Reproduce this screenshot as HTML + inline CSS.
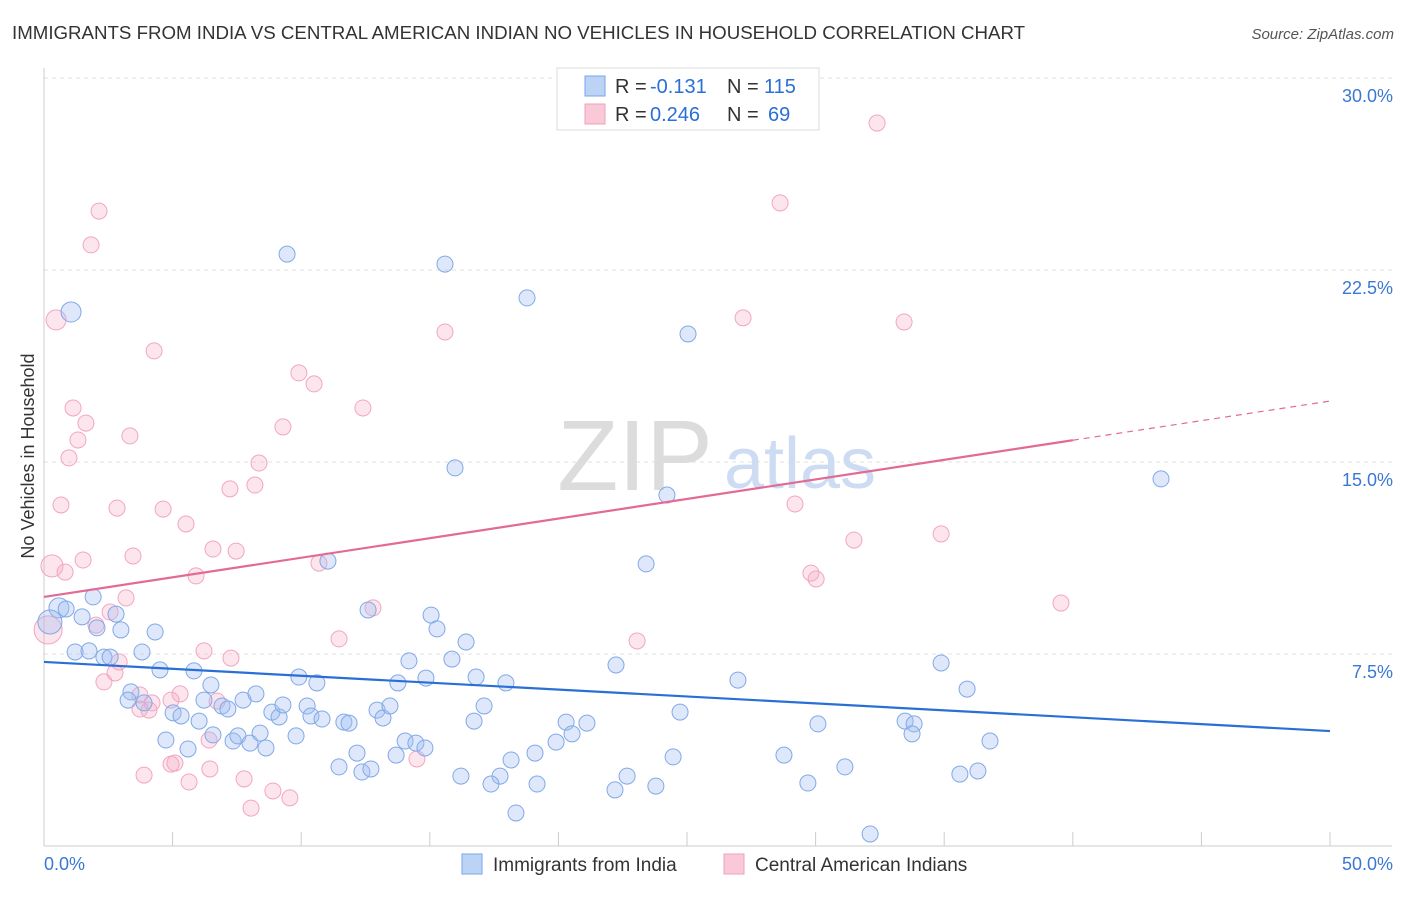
<!DOCTYPE html>
<html><head><meta charset="utf-8"><style>
body{margin:0;background:#fff;font-family:"Liberation Sans",sans-serif;}
svg text{font-family:"Liberation Sans",sans-serif;}
</style></head><body>
<svg id="chart" width="1406" height="892" viewBox="0 0 1406 892" xmlns="http://www.w3.org/2000/svg">
<text x="12" y="39" font-size="18.7" fill="#333">IMMIGRANTS FROM INDIA VS CENTRAL AMERICAN INDIAN NO VEHICLES IN HOUSEHOLD CORRELATION CHART</text>
<text x="1394" y="39" font-size="15" fill="#555" font-style="italic" text-anchor="end">Source: ZipAtlas.com</text>
<g id="grid"></g>
<g id="axes"></g>
<g>
<text x="635" y="490" font-size="100" font-family="Liberation Serif,serif" fill="#dcdcdc" text-anchor="middle">ZIP</text>
<text x="800" y="488" font-size="72" fill="#cddcf2" text-anchor="middle">atlas</text>
</g>
<g id="pts-pink"></g>
<g id="pts-blue"></g>
<g id="trends"></g>
<text x="34" y="456" font-size="18" fill="#333" text-anchor="middle" transform="rotate(-90 34 456)">No Vehicles in Household</text>
<g>
<rect x="557" y="68" width="262" height="62" fill="#fff" stroke="#ddd"/>
<rect x="585" y="76" width="20" height="20" fill="#bcd3f5" stroke="#7aa6e8"/>
<rect x="585" y="104" width="20" height="20" fill="#f9c9d8" stroke="#f0a0bb"/>
<text x="615" y="93" font-size="20" fill="#333">R = </text>
<text x="650" y="93" font-size="20" fill="#2a6fd6">-0.131</text>
<text x="727" y="93" font-size="20" fill="#333">N = </text>
<text x="764" y="93" font-size="20" fill="#2a6fd6">115</text>
<text x="615" y="121" font-size="20" fill="#333">R = </text>
<text x="650" y="121" font-size="20" fill="#2a6fd6">0.246</text>
<text x="727" y="121" font-size="20" fill="#333">N = </text>
<text x="768" y="121" font-size="20" fill="#2a6fd6">69</text>
</g>
<g>
<rect x="462" y="854" width="20" height="20" fill="#bcd3f5" stroke="#7aa6e8"/>
<text x="493" y="871" font-size="19" fill="#333">Immigrants from India</text>
<rect x="724" y="854" width="20" height="20" fill="#f9c9d8" stroke="#f0a0bb"/>
<text x="755" y="871" font-size="19" fill="#333">Central American Indians</text>
</g>
</svg>
<script>
const yTicks=[7.5,15,22.5,30];
const yTickLabels=["7.5%","15.0%","22.5%","30.0%"];
const xTickLabels=["0.0%","50.0%"];
const blueX=[9.45,15.59,18.78,25.04,1.05,15.98,24.22,43.43,11.04,23.41,1.91,0.58,0.86,0.23,1.48,2.80,2.06,2.99,4.32,12.60,15.05,15.28,16.41,1.21,1.75,2.33,2.57,3.81,4.51,5.83,9.91,14.19,15.86,22.24,34.88,6.49,10.61,13.76,14.85,16.80,17.96,26.98,35.89,3.38,3.27,3.89,5.02,5.33,6.22,6.92,7.15,7.74,8.24,8.86,9.14,9.29,10.23,10.38,10.81,11.66,11.86,12.95,13.18,13.45,16.72,17.11,20.30,20.53,21.11,24.73,30.09,33.48,33.83,33.75,6.03,4.74,5.60,6.57,7.35,7.54,8.01,8.40,8.63,9.80,12.17,14.04,14.46,14.81,19.09,19.91,36.78,11.47,12.36,12.71,13.69,18.16,24.46,28.77,16.21,17.73,19.17,22.20,22.67,23.79,29.70,31.14,35.61,36.31,17.38,18.35,32.12];
const blueY=[23.12,22.73,21.41,20.0,20.86,14.77,13.71,14.34,11.13,11.02,9.73,9.30,9.26,8.75,8.95,9.06,8.52,8.44,8.36,9.22,9.02,8.48,7.97,7.58,7.62,7.38,7.38,7.58,6.88,6.84,6.60,7.23,7.30,7.07,7.15,6.29,6.37,6.37,6.56,6.60,6.37,6.48,6.13,6.02,5.70,5.59,5.20,5.08,5.70,5.47,5.35,5.70,5.94,5.23,5.04,5.51,5.47,5.08,4.96,4.84,4.80,5.31,5.00,5.47,4.88,5.47,4.84,4.38,4.80,5.23,4.77,4.88,4.77,4.38,4.88,4.14,3.79,4.34,4.10,4.30,4.02,4.41,3.83,4.30,3.63,4.10,4.02,3.83,3.63,4.06,4.10,3.09,2.89,3.01,3.55,3.36,3.48,3.55,2.73,2.73,2.42,2.19,2.73,2.34,2.46,3.09,2.81,2.93,2.42,1.29,0.47];
const blueR=[8,8,8,8,10,8,8,8,8,8,8,10,8,12,8,8,8,8,8];
const pinkX=[32.39,2.14,28.62,1.83,0.47,27.18,33.44,15.59,4.28,9.91,10.50,12.40,1.13,1.63,9.29,1.32,3.34,0.97,8.36,7.23,8.20,0.66,2.84,4.63,29.20,5.52,34.88,31.49,6.57,7.47,3.46,1.52,0.31,0.82,10.69,5.91,29.82,30.02,39.54,3.19,12.79,2.57,2.02,11.47,23.06,6.22,2.92,7.27,2.33,2.76,3.73,5.29,4.94,4.20,6.73,3.73,4.08,6.42,5.09,4.94,6.45,3.89,5.64,7.78,8.90,9.56,8.05,14.50,0.16];
const pinkY=[28.24,24.80,25.12,23.48,20.55,20.63,20.47,20.08,19.34,18.48,18.05,17.11,17.11,16.52,16.37,15.86,16.02,15.16,14.96,13.95,14.10,13.32,13.20,13.16,13.36,12.58,12.19,11.95,11.60,11.52,11.33,11.17,10.94,10.70,11.05,10.55,10.66,10.43,9.49,9.69,9.30,9.14,8.63,8.09,8.01,7.62,7.19,7.34,6.41,6.76,5.90,5.94,5.70,5.59,5.66,5.35,5.31,4.14,3.24,3.20,3.01,2.77,2.50,2.62,2.15,1.88,1.48,3.40,8.44];
const blueTrend=[7.19,4.49];
const pinkTrend=[9.73,17.38];
const pinkSolidEnd=40;
const NS="http://www.w3.org/2000/svg";
const xS=v=>44+v*25.72, yS=v=>846-v*25.6;
function mk(tag,attrs,parent){const e=document.createElementNS(NS,tag);for(const k in attrs)e.setAttribute(k,attrs[k]);parent.appendChild(e);return e;}
const grid=document.getElementById('grid'),axes=document.getElementById('axes');
yTicks.forEach((t,i)=>{
 const l=mk('line',{x1:44,x2:1392,y1:yS(t),y2:yS(t),stroke:'#e2e2e2','stroke-dasharray':'4,4'},grid);
 
 
 const tx=mk('text',{x:1393,y:yS(t)+24,'font-size':18,fill:'#3a78d4','text-anchor':'end'},axes);
 tx.textContent=yTickLabels[i];
 
 
});
mk('line',{x1:44,x2:44,y1:68,y2:846,stroke:'#ccc'},axes);
mk('line',{x1:44,x2:1392,y1:846,y2:846,stroke:'#ccc'},axes);
for(let v=0;v<=50;v+=5){const t=mk('line',{x1:xS(v),x2:xS(v),y1:832,y2:846,stroke:'#ccc'},axes);}
const xl0=mk('text',{x:44,y:870,'font-size':18,fill:'#3a78d4'},axes);xl0.textContent=xTickLabels[0];


const xl1=mk('text',{x:1393,y:870,'font-size':18,fill:'#3a78d4','text-anchor':'end'},axes);xl1.textContent=xTickLabels[1];


const pp=document.getElementById('pts-pink');
pinkX.forEach((x,i)=>{const r=(i===68?14:(i===32?11:(i===4?10:8)));
 const c=mk('circle',{cx:xS(x),cy:yS(pinkY[i]),r:r,fill:'rgba(245,170,195,0.3)',stroke:'#f2a6c0','stroke-width':1},pp);
 
 });
const bp=document.getElementById('pts-blue');
blueX.forEach((x,i)=>{const r=blueR[i]||8;
 const c=mk('circle',{cx:xS(x),cy:yS(blueY[i]),r:r,fill:'rgba(160,190,240,0.35)',stroke:'#80a9e8','stroke-width':1},bp);
 
 });
const tr=document.getElementById('trends');
const pAt=v=>pinkTrend[0]+(pinkTrend[1]-pinkTrend[0])*v/50;
const bl=mk('line',{x1:xS(0),y1:yS(blueTrend[0]),x2:xS(50),y2:yS(blueTrend[1]),stroke:'#2a6fd6','stroke-width':2.2},tr);


const pl=mk('line',{x1:xS(0),y1:yS(pAt(0)),x2:xS(pinkSolidEnd),y2:yS(pAt(pinkSolidEnd)),stroke:'#e36a95','stroke-width':2.2},tr);


const pd=mk('line',{x1:xS(pinkSolidEnd),y1:yS(pAt(pinkSolidEnd)),x2:xS(50),y2:yS(pAt(50)),stroke:'#e36a95','stroke-width':1.2,'stroke-dasharray':'6,5'},tr);


</script>
</body></html>
